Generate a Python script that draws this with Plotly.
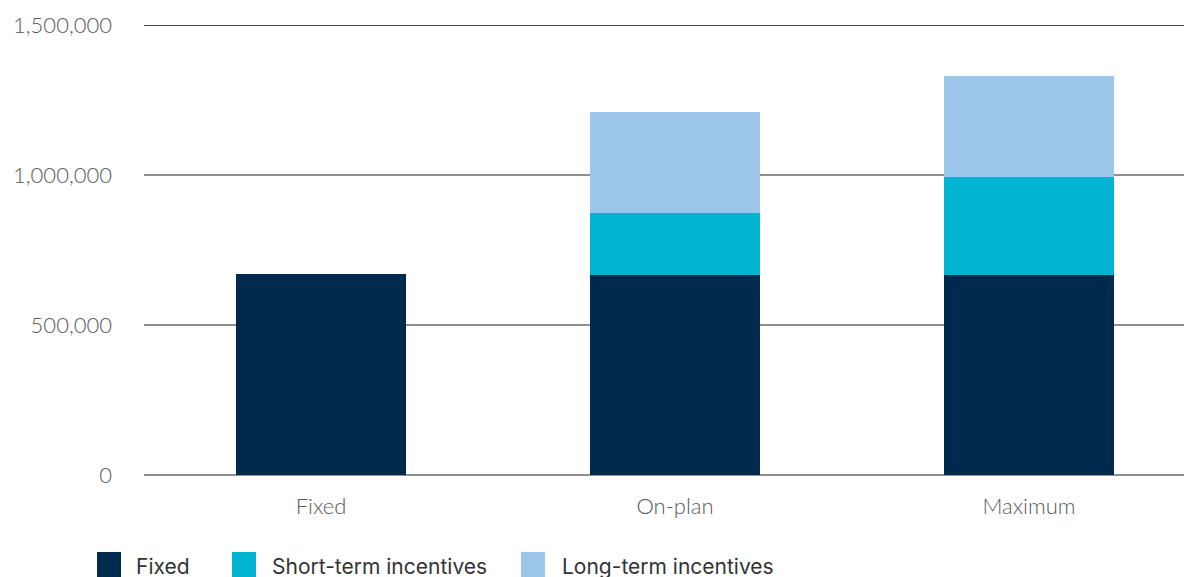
import plotly.graph_objects as go

categories = ["Fixed", "On-plan", "Maximum"]
fixed_vals = [670000, 667000, 667000]
sti_vals = [0, 206000, 326000]
lti_vals = [0, 337000, 337000]
series_names = ["Fixed", "Short-term incentives", "Long-term incentives"]
colors = ["#002A4D", "#00B4D2", "#9CC6E9"]
y_ticks = [0, 500000, 1000000, 1500000]
y_tick_labels = ["0", "500,000", "1,000,000", "1,500,000"]

# page body has 8px offset; size figure to fit the window without scrollbars
OFF = 8
W, H = 1192 - OFF, 577 - OFF
L, T = 144 - OFF, 25 - OFF
R = 0
plot_bottom = 475 - OFF
B = H - plot_bottom
pw, ph = W - L - R, plot_bottom - T

def px_x(x):
    return (x - OFF - L) / pw

def px_y(y):
    return (plot_bottom - (y - OFF)) / ph

fig = go.Figure()
for name, vals, c in zip(series_names, [fixed_vals, sti_vals, lti_vals], colors):
    fig.add_trace(go.Bar(x=categories, y=vals, name=name, marker=dict(color=c, line=dict(width=0)),
                         width=0.483, showlegend=False))

tick_font = "Lato, Inter, Open Sans, sans-serif"
leg_font = "Inter, Open Sans, sans-serif"
fig.update_layout(
    width=W, height=H, barmode="stack",
    margin=dict(l=L, r=R, t=T, b=B, pad=0),
    plot_bgcolor="white", paper_bgcolor="white",
    xaxis=dict(range=[-0.5, -0.5 + pw / 354], showgrid=False, showline=False, ticks="",
               ticklabelstandoff=16,
               tickfont=dict(family=tick_font, size=22, color="#595959", weight=300)),
    yaxis=dict(range=[0, 1500000], tickvals=y_ticks, ticktext=y_tick_labels,
               showgrid=True, gridcolor="#8f8f8f", gridwidth=1.5, zeroline=True,
               zerolinecolor="#8f8f8f", zerolinewidth=1.5, showline=False, ticks="",
               ticklabelstandoff=31,
               tickfont=dict(family=tick_font, size=22, color="#595959", weight=300)),
    font=dict(family=tick_font),
)

# darker top gridline
fig.add_shape(type="line", xref="paper", yref="y", x0=0, x1=1, y0=1500000, y1=1500000,
              line=dict(color="#111111", width=1.5), layer="above")

# custom legend
leg_sq_x = [97, 232, 521]
leg_txt_x = [134, 270, 560]
for name, c, sx, tx in zip(series_names, colors, leg_sq_x, leg_txt_x):
    fig.add_shape(type="rect", xref="paper", yref="paper",
                  x0=px_x(sx), x1=px_x(sx + 24), y0=px_y(552), y1=px_y(580),
                  fillcolor=c, line=dict(width=0))
    fig.add_annotation(xref="paper", yref="paper", x=px_x(tx), y=px_y(566),
                       text=name, showarrow=False, xanchor="left", yanchor="middle",
                       font=dict(family=leg_font, size=21, color="#333333"))

fig.write_html("out.html")
